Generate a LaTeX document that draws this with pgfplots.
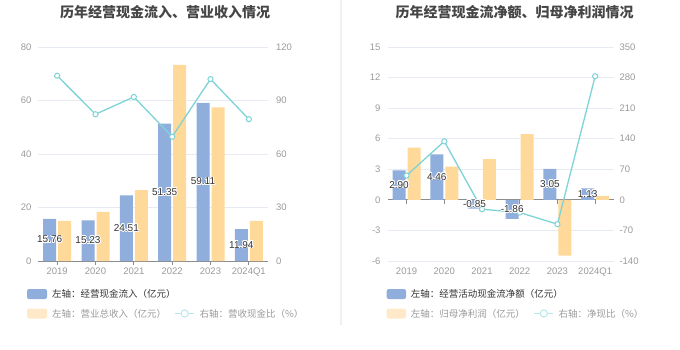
\documentclass[border=0pt]{standalone}
\usepackage{pgfplots}
\usepackage{pgfplotstable}
\pgfplotsset{compat=1.18}
\usepackage{fontspec}
\setmainfont{Liberation Sans}
\newfontfamily\cjk{Noto Sans CJK SC}
\usepackage{contour}
\contourlength{0.8pt}
\definecolor{cblue}{HTML}{8FAEDB}
\definecolor{corange}{HTML}{FFD99A}
\definecolor{corangel}{HTML}{FFE9C8}
\definecolor{cline}{HTML}{7ED3D6}
\definecolor{clinel}{HTML}{B8E8EA}
\definecolor{cgrid}{HTML}{E6EBF3}
\definecolor{ctick}{HTML}{9A9A9A}
\definecolor{caxis}{HTML}{8C8C8C}
\definecolor{ctitle}{HTML}{464646}
\definecolor{ctext}{HTML}{333333}

\pgfplotstableread{
x cf rev ratio
0 15.76 15.0 103.9
1 15.23 18.4 82.3
2 24.51 26.5 92.0
3 51.35 73.3 69.7
4 59.11 57.4 102.0
5 11.94 15.0 79.5
}\leftdata

\pgfplotstableread{
x ncf np ratio
0 2.90 5.13 55.7
1 4.46 3.27 134
2 -0.85 3.99 -21.4
3 -1.86 6.44 -29
4 3.05 -5.46 -55.7
5 1.13 0.39 283
}\rightdata

\pgfplotsset{
  base/.style={
    scale only axis, height=214pt,
    xmin=-0.5, xmax=5.5,
    axis line style={draw=none},
    tick style={draw=none},
    ticklabel style={font=\fontsize{9.5}{11}\selectfont, text=ctick},
    /pgf/number format/assume math mode=true,
    clip=false,
  },
  lab/.style={draw=none, mark=none, nodes near coords={\contour{white}{\pgfplotspointmeta}},
    point meta=explicit symbolic,
    nodes near coords style={anchor=center, font=\fontsize{10}{12}\selectfont, text=ctext}},
}

\begin{document}
\begin{tikzpicture}
\path[use as bounding box] (0pt,0pt) rectangle (680pt,349pt);
\draw[color=black!6, line width=1.5pt] (341pt,349pt) -- (341pt,24pt);

% titles
\node[font=\cjk\bfseries\fontsize{14}{16}\selectfont, text=ctitle] at (165pt,337pt) {历年经营现金流入、营业收入情况};
\node[font=\cjk\bfseries\fontsize{14}{16}\selectfont, text=ctitle] at (514.7pt,337pt) {历年经营现金流净额、归母净利润情况};

% ===== left chart =====
\begin{axis}[base, width=230pt, at={(38pt,88pt)}, anchor=south west,
  ymin=0, ymax=80, ytick={20,40,60,80},
  extra y ticks={0}, extra y tick style={grid style={caxis, line width=0.8pt}},
  ymajorgrids, grid style={cgrid, line width=0.6pt},
  xtick={0,...,5}, xticklabels={2019,2020,2021,2022,2023,2024Q1},
  xticklabel style={yshift=-3pt},
  yticklabel style={xshift=-3pt},
]
\addplot[ybar, bar width=13pt, bar shift=-7.5pt, fill=cblue, draw=none] table[x=x,y=cf]{\leftdata};
\addplot[ybar, bar width=13pt, bar shift=7.5pt, fill=corange, draw=none] table[x=x,y=rev]{\leftdata};
\addplot[ycomb, draw=caxis, line width=0.8pt, mark=none] coordinates {(0,-1.5) (1,-1.5) (2,-1.5) (3,-1.5) (4,-1.5) (5,-1.5)};
\end{axis}
\begin{axis}[base, width=230pt, at={(38pt,88pt)}, anchor=south west,
  ymin=0, ymax=120, ytick={0,30,...,120},
  xtick=\empty, yticklabel pos=right,
  yticklabel style={xshift=4.5pt},
]
\addplot[cline, line width=1.3pt, mark=*, mark size=2.6pt, mark options={fill=white, draw=cline, line width=1pt}] table[x=x,y=ratio]{\leftdata};
\end{axis}
\begin{axis}[base, width=230pt, at={(38pt,88pt)}, anchor=south west,
  ymin=0, ymax=80, xtick=\empty, ytick=\empty]
\addplot[lab] table[x expr=\thisrow{x}-0.196, y expr=\thisrow{cf}/2, meta=cf]{\leftdata};
\end{axis}

% ===== right chart =====
\begin{axis}[base, width=226.3pt, at={(387.7pt,88pt)}, anchor=south west,
  ymin=-6, ymax=15, ytick={-6,-3,3,6,9,12,15},
  extra y ticks={0}, extra y tick style={grid style={caxis, line width=0.8pt}},
  ymajorgrids, grid style={cgrid, line width=0.6pt},
  xtick={0,...,5}, xticklabels={2019,2020,2021,2022,2023,2024Q1},
  xticklabel style={yshift=-3pt},
  yticklabel style={xshift=-3.7pt},
]
\addplot[ybar, bar width=13pt, bar shift=-7.5pt, fill=cblue, draw=none] table[x=x,y=ncf]{\rightdata};
\addplot[ybar, bar width=13pt, bar shift=7.5pt, fill=corange, draw=none] table[x=x,y=np]{\rightdata};
\addplot[ycomb, draw=caxis, line width=0.8pt, mark=none] coordinates {(0,-0.39) (1,-0.39) (2,-0.39) (3,-0.39) (4,-0.39) (5,-0.39)};
\end{axis}
\begin{axis}[base, width=226.3pt, at={(387.7pt,88pt)}, anchor=south west,
  ymin=-140, ymax=350, ytick={-140,-70,...,350},
  xtick=\empty, yticklabel pos=right,
  yticklabel style={xshift=2pt},
]
\addplot[cline, line width=1.3pt, mark=*, mark size=2.6pt, mark options={fill=white, draw=cline, line width=1pt}] table[x=x,y=ratio]{\rightdata};
\end{axis}
\begin{axis}[base, width=226.3pt, at={(387.7pt,88pt)}, anchor=south west,
  ymin=-6, ymax=15, xtick=\empty, ytick=\empty]
\addplot[lab] table[x expr=\thisrow{x}-0.199, y expr=\thisrow{ncf}/2, meta=ncf]{\rightdata};
\end{axis}

% ===== legends =====
\tikzset{lt/.style={anchor=west, inner sep=0pt, font=\cjk\fontsize{9.5}{11}\selectfont}}
% left
\fill[cblue, rounded corners=2pt] (27pt,50pt) rectangle (47pt,60pt);
\node[lt, text=ctext] at (52pt,55pt) {左轴：经营现金流入（亿元）};
\fill[corangel, rounded corners=2pt] (27pt,30.5pt) rectangle (47pt,40.5pt);
\node[lt, text=ctick] at (52pt,35.5pt) {左轴：营业总收入（亿元）};
\draw[clinel, line width=1.3pt] (175pt,35.5pt) -- (194.3pt,35.5pt);
\draw[clinel, line width=1pt, fill=white] (184.7pt,35.5pt) circle (3.6pt);
\node[lt, text=ctick] at (199.3pt,35.5pt) {右轴：营收现金比（\%）};
% right
\fill[cblue, rounded corners=2pt] (386.7pt,50pt) rectangle (406pt,60pt);
\node[lt, text=ctext] at (410.7pt,55pt) {左轴：经营活动现金流净额（亿元）};
\fill[corangel, rounded corners=2pt] (386.7pt,30.5pt) rectangle (406pt,40.5pt);
\node[lt, text=ctick] at (410.7pt,35.5pt) {左轴：归母净利润（亿元）};
\draw[clinel, line width=1.3pt] (534.3pt,35.5pt) -- (553.3pt,35.5pt);
\draw[clinel, line width=1pt, fill=white] (543.8pt,35.5pt) circle (3.6pt);
\node[lt, text=ctick] at (558.3pt,35.5pt) {右轴：净现比（\%）};
\end{tikzpicture}
\end{document}
